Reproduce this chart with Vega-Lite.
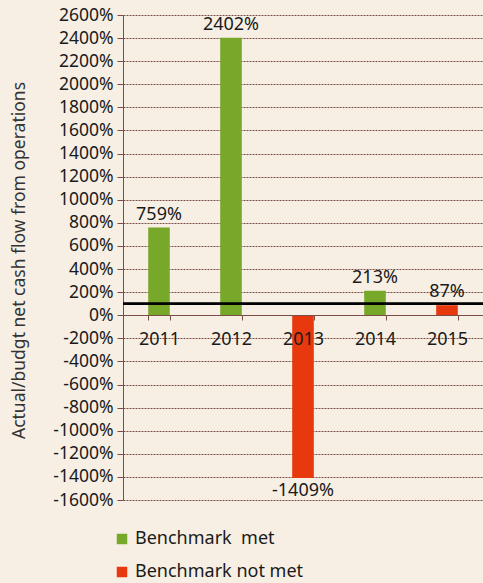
{
  "$schema": "https://vega.github.io/schema/vega-lite/v6.json",
  "width": 360,
  "height": 485,
  "autosize": {"type": "none"},
  "padding": {"left": 123, "top": 15, "right": 0, "bottom": 83},
  "background": "#f7efe4",
  "config": {
    "font": "Noto Sans",
    "view": {"stroke": null},
    "text": {"font": "Noto Sans"}
  },
  "data": {
    "values": [
      {"year": "2011", "value": 759, "label": "759%", "status": "Benchmark\u00a0 met"},
      {"year": "2012", "value": 2402, "label": "2402%", "status": "Benchmark\u00a0 met"},
      {"year": "2013", "value": -1409, "label": "-1409%", "status": "Benchmark not met"},
      {"year": "2014", "value": 213, "label": "213%", "status": "Benchmark\u00a0 met"},
      {"year": "2015", "value": 87, "label": "87%", "status": "Benchmark not met"}
    ]
  },
  "encoding": {
    "x": {
      "field": "year",
      "type": "ordinal",
      "scale": {"paddingInner": 0.7, "paddingOuter": 0.35},
      "axis": {
        "orient": "bottom",
        "offset": -185,
        "zindex": 1,
        "title": null,
        "labelAngle": 0,
        "labelFontSize": 18,
        "labelColor": "#1a1a1a",
        "labelPadding": 10,
        "domainColor": "#7a4e46",
        "tickColor": "#7a4e46",
        "tickBand": "extent",
        "tickSize": 5,
        "grid": false
      }
    },
    "y": {
      "field": "value",
      "type": "quantitative",
      "scale": {"domain": [-1600, 2600], "nice": false, "zero": false},
      "axis": {
        "values": [-1600, -1400, -1200, -1000, -800, -600, -400, -200, 0, 200, 400, 600, 800, 1000, 1200, 1400, 1600, 1800, 2000, 2200, 2400, 2600],
        "labelExpr": "datum.value + '%'",
        "labelFontSize": 17.5,
        "labelColor": "#1a1a1a",
        "labelPadding": 4,
        "tickSize": 6,
        "tickColor": "#7a4e46",
        "domainColor": "#7a4e46",
        "grid": true,
        "gridColor": "#7a4e46",
        "gridDash": [2, 1],
        "gridWidth": 1.2,
        "title": "Actual/budgt net cash flow from operations",
        "titleFontSize": 17.5,
        "titleFontWeight": "normal",
        "titleColor": "#333333",
        "titleX": -104,
        "titleY": 245,
        "titleBaseline": "middle",
        "titleAlign": "center",
        "titleAngle": -90
      }
    }
  },
  "layer": [
    {
      "mark": {"type": "bar"},
      "encoding": {
        "color": {
          "field": "status",
          "type": "nominal",
          "scale": {"domain": ["Benchmark\u00a0 met", "Benchmark not met"], "range": ["#78a82a", "#e8380d"]},
          "legend": {
            "orient": "none",
            "legendX": -10,
            "legendY": 515,
            "title": null,
            "symbolType": "square",
            "symbolSize": 110,
            "symbolStrokeWidth": 0,
            "labelFontSize": 18,
            "labelColor": "#1a1a1a",
            "labelLimit": 0,
            "rowPadding": 15
          }
        }
      }
    },
    {
      "transform": [{"filter": "datum.value >= 0"}],
      "mark": {"type": "text", "baseline": "bottom", "dy": -4, "fontSize": 18, "color": "#1a1a1a"},
      "encoding": {"text": {"field": "label"}}
    },
    {
      "transform": [{"filter": "datum.value < 0"}],
      "mark": {"type": "text", "baseline": "top", "dy": 4, "fontSize": 18, "color": "#1a1a1a"},
      "encoding": {"text": {"field": "label"}}
    },
    {
      "mark": {"type": "rule", "color": "black", "strokeWidth": 2},
      "encoding": {"y": {"datum": 100}, "x": null}
    }
  ]
}
